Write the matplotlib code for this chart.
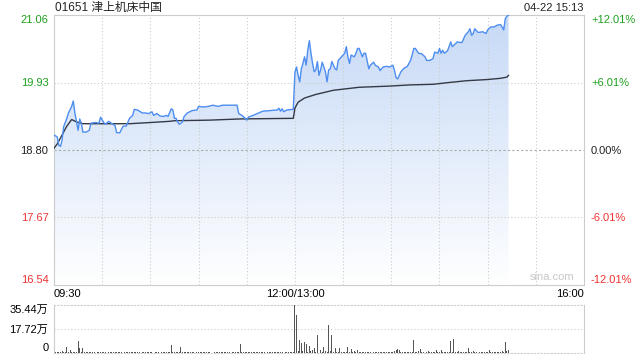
import matplotlib
matplotlib.use('Agg')
import matplotlib.pyplot as plt
import numpy as np
from matplotlib.colors import LinearSegmentedColormap
from matplotlib.patches import Polygon

plt.rcParams['font.family'] = ['Liberation Sans', 'Noto Sans CJK SC']

# price line (minutes since 09:30, lunch break removed)
price_t = [0, 2, 3, 4, 5, 6, 8, 9, 11, 12, 13, 14, 15, 16, 17, 18, 20, 22, 23, 26,
           28, 29, 31, 32, 34, 35, 38, 39, 41, 43, 45, 47, 49, 50, 52, 55, 57, 59, 61, 62,
           64, 66, 68, 70, 71, 73, 74, 75, 76, 77, 78, 80, 81, 83, 86, 89, 90, 93, 96, 99,
           102, 105, 110, 114, 115, 117, 119, 120, 121, 124, 130, 139, 140, 141, 142, 143, 145, 149,
           150, 151, 152, 153, 154, 155, 156, 157, 158, 159, 160, 161, 162, 163, 164, 165, 166, 167,
           169, 170, 171, 172, 173, 175, 176, 177, 179, 181, 182, 183, 184, 185, 187, 188, 189, 190,
           192, 193, 194, 196, 197, 199, 200, 202, 203, 205, 207, 209, 211, 212, 213, 214, 216, 218,
           220, 222, 223, 224, 225, 227, 229, 231, 232, 234, 236, 237, 239, 240, 241, 242, 243, 245,
           246, 247, 248, 250, 251, 253, 254, 256, 258, 259, 260, 261, 262, 264, 265, 267, 269, 270,
           272, 274, 276, 278, 279, 280, 281, 282, 283]
price = [19.05, 19.02, 18.88, 18.86, 18.96, 19.19, 19.33, 19.42, 19.53, 19.62, 19.42, 19.27, 19.13, 19.32, 19.25, 19.10, 19.10, 19.13, 19.25, 19.26,
         19.25, 19.35, 19.26, 19.23, 19.28, 19.26, 19.21, 19.09, 19.09, 19.20, 19.20, 19.33, 19.38, 19.48, 19.47, 19.42, 19.42, 19.41, 19.44, 19.38,
         19.41, 19.37, 19.36, 19.38, 19.36, 19.49, 19.47, 19.33, 19.33, 19.27, 19.23, 19.27, 19.36, 19.42, 19.46, 19.47, 19.53, 19.52, 19.53, 19.55,
         19.53, 19.55, 19.55, 19.55, 19.41, 19.38, 19.33, 19.30, 19.35, 19.38, 19.45, 19.47, 19.50, 19.45, 19.49, 19.44, 19.47, 19.48,
         20.10, 20.19, 20.05, 19.94, 20.16, 20.25, 20.36, 20.22, 20.47, 20.63, 20.42, 20.25, 20.11, 20.14, 20.28, 20.05, 20.14, 20.27,
         20.11, 19.94, 20.14, 20.16, 20.28, 20.16, 20.14, 20.30, 20.36, 20.42, 20.53, 20.36, 20.25, 20.39, 20.36, 20.42, 20.50, 20.50,
         20.36, 20.42, 20.42, 20.16, 20.22, 20.27, 20.22, 20.19, 20.13, 20.19, 20.20, 20.19, 20.22, 20.13, 20.01, 19.99, 20.11, 20.17,
         20.20, 20.30, 20.39, 20.50, 20.50, 20.42, 20.41, 20.36, 20.30, 20.30, 20.33, 20.44, 20.42, 20.50, 20.42, 20.47, 20.42, 20.46,
         20.53, 20.61, 20.53, 20.58, 20.61, 20.60, 20.60, 20.72, 20.78, 20.83, 20.72, 20.75, 20.83, 20.77, 20.77, 20.78, 20.75, 20.81,
         20.86, 20.86, 20.89, 20.90, 20.86, 20.81, 21.00, 21.04, 21.06]

avg_t = [0, 2, 5, 8, 11, 14, 18, 47, 60, 72, 75, 97, 116, 149, 150, 152, 156, 163, 174,
         190, 209, 222, 236, 246, 257, 270, 278, 282, 283]
avg = [18.83, 18.90, 19.05, 19.20, 19.31, 19.27, 19.24, 19.24, 19.26, 19.28, 19.29, 19.30, 19.32, 19.33, 19.50, 19.60, 19.67, 19.73, 19.80,
       19.85, 19.87, 19.89, 19.90, 19.93, 19.96, 19.98, 20.00, 20.02, 20.05]

# volume per minute, in 万 shares
volume = [0.8, 0.5, 0.6, 0.4, 0.9, 1.2, 0.7, 0.5, 4.6, 0.6, 2.0, 0.8, 0.5, 0.9, 0.6, 8.7, 3.6, 0.7, 3.6, 0.5,
          0.6, 0.4, 0.5, 0.7, 0.4, 0.5, 0.3, 0.6, 0.4, 0.5, 0.7, 0.4, 0.5, 0.3, 0.6, 0.5, 0.4, 0.8, 0.5, 0.4,
          0.5, 0.6, 0.4, 0.3, 0.5, 0.7, 0.4, 0.5, 0.6, 0.4, 0.8, 0.5, 0.4, 0.6, 0.3, 0.5, 0.7, 0.4, 0.5, 0.6,
          0.4, 0.5, 0.3, 0.6, 0.4, 0.5, 0.7, 0.4, 0.6, 0.5, 0.4, 0.5, 0.7, 5.8, 1.0, 0.6, 0.5, 0.4, 0.6, 4.1,
          0.6, 0.5, 0.4, 0.7, 0.5, 0.4, 0.6, 0.5, 0.3, 0.4, 0.6, 0.5, 0.7, 0.4, 0.5, 0.6, 0.4, 0.5, 0.3, 0.6,
          0.5, 0.4, 0.6, 0.5, 0.7, 0.4, 0.5, 0.6, 0.4, 0.5, 0.3, 0.6, 0.5, 0.4, 0.7, 0.5, 6.3, 0.8, 0.5, 0.6,
          0.9, 0.5, 0.6, 0.4, 0.5, 0.7, 0.4, 0.6, 0.5, 0.4, 0.6, 0.5, 0.3, 0.5, 0.6, 0.4, 0.5, 0.7, 0.4, 0.5,
          0.6, 0.4, 0.5, 0.3, 0.6, 0.5, 0.4, 0.6, 0.5, 0.7,
          35.44, 28.2, 1.5, 9.9, 7.7, 1.2, 8.0, 6.5, 1.0, 5.3, 1.2, 2.4, 3.6, 1.0, 13.0, 1.5, 2.2, 0.9, 4.1, 1.2,
          1.0, 21.0, 1.4, 13.0, 0.9, 3.6, 1.0, 0.8, 3.4, 1.1, 0.8, 1.0, 0.7, 4.6, 0.9, 2.6, 0.8, 1.8, 0.7, 2.2,
          0.8, 0.6, 0.9, 0.7, 1.0, 0.6, 0.8, 0.5, 1.1, 0.7, 0.6, 0.8, 0.5, 0.7, 0.9, 0.6, 0.8, 0.5, 0.7, 0.6,
          0.8, 1.0, 1.2, 2.4, 2.6, 2.2, 1.0, 0.8, 0.6, 0.9, 0.7, 0.8, 0.6, 1.0, 9.9, 0.8, 0.7, 1.2, 2.6, 0.9,
          0.7, 0.9, 0.6, 1.8, 0.8, 0.7, 1.0, 0.6, 2.2, 0.8, 0.9, 2.2, 0.7, 1.0, 0.8, 0.9, 0.7, 8.7, 1.1, 10.1,
          1.0, 0.8, 1.2, 0.7, 0.9, 1.1, 0.8, 0.9, 3.4, 1.0, 0.8, 1.4, 0.9, 0.7, 1.0, 0.8, 1.1, 0.9, 0.7, 1.0,
          0.9, 2.4, 1.0, 0.8, 1.1, 0.9, 0.7, 1.0, 0.8, 1.2, 0.9, 8.0, 1.3, 2.2]
vol_t = list(range(len(volume)))

price_ticks = [16.54, 17.67, 18.80, 19.93, 21.06]
price_labels = ['16.54', '17.67', '18.80', '19.93', '21.06']
pct_labels = ['-12.01%', '-6.01%', '0.00%', '+6.01%', '+12.01%']
tick_colors = ['#f03232', '#f03232', '#222222', '#1ea01e', '#1ea01e']
time_ticks = [0, 150, 330]
time_labels = ['09:30', '12:00/13:00', '16:00']
vol_ticks = [0, 17.72, 35.44]
vol_labels = ['0', '17.72万', '35.44万']

grid_c = '#cccccc'
fig = plt.figure(figsize=(6.4, 3.6), dpi=100)
ax = fig.add_axes([54 / 640, 1 - 285 / 360, 530 / 640, 270 / 360])
vax = fig.add_axes([54 / 640, 1 - 353 / 360, 530 / 640, 48 / 360])

ax.set_xlim(0, 330)
ax.set_ylim(price_ticks[0], price_ticks[-1])

# gradient fill under the price line
cmap = LinearSegmentedColormap.from_list('fill', ['#ffffff', '#c6d9f6'])
grad = np.linspace(1, 0, 256).reshape(-1, 1)
im = ax.imshow(grad, extent=(price_t[0], price_t[-1], price_ticks[0], price_ticks[-1]),
               aspect='auto', cmap=cmap, vmin=0, vmax=1, zorder=1)
verts = [(price_t[0], price_ticks[0])] + list(zip(price_t, price)) + [(price_t[-1], price_ticks[0])]
clip = Polygon(verts, closed=True, transform=ax.transData)
im.set_clip_path(clip)

# grid
for x in range(30, 330, 30):
    ax.axvline(x, color=grid_c, lw=0.8, ls=(0, (1, 2)), zorder=2)
for y in [17.67, 19.93]:
    ax.axhline(y, color=grid_c, lw=0.8, ls=(0, (1, 2)), zorder=2)
ax.axhline(18.80, color='#aaaaaa', lw=0.8, ls=(0, (2, 2)), zorder=2)

ax.plot(price_t, price, color='#4d8ef0', lw=1.0, zorder=4)
ax.plot(avg_t, avg, color='#333a45', lw=1.0, zorder=3)

for s in ax.spines.values():
    s.set_color(grid_c)

ax.set_yticks(price_ticks, price_labels)
ax.set_xticks(time_ticks, time_labels)
ax.tick_params(length=0, labelsize=8, pad=4)
ax.tick_params(axis='x', pad=3)
for lbl, c in zip(ax.get_yticklabels(), tick_colors):
    lbl.set_color(c)
ax.get_yticklabels()[0].set_va('bottom')
ax.get_yticklabels()[-1].set_va('top')
xl = ax.get_xticklabels()
xl[0].set_ha('left')
xl[-1].set_ha('right')

ax2 = ax.twinx()
ax2.set_ylim(price_ticks[0], price_ticks[-1])
ax2.set_yticks(price_ticks, pct_labels)
ax2.tick_params(length=0, labelsize=8, pad=5)
for lbl, c in zip(ax2.get_yticklabels(), tick_colors):
    lbl.set_color(c)
ax2.get_yticklabels()[0].set_va('bottom')
ax2.get_yticklabels()[-1].set_va('top')
for s in ax2.spines.values():
    s.set_visible(False)

ax.text(0.94, 0.012, 'sina.com', transform=ax.transAxes, ha='center', va='bottom',
        fontsize=8, color='#c8c8c8', zorder=5)

fig.text(55 / 640, 1 - 8 / 360, '01651 津上机床中国', va='center', ha='left', fontsize=8.5, color='#222222')
fig.text(584 / 640, 1 - 8 / 360, '04-22 15:13', va='center', ha='right', fontsize=8, color='#222222')

# volume panel
vax.bar(vol_t, volume, width=0.6, color='#555555', zorder=3)
vax.set_xlim(0, 330)
vax.set_ylim(0, vol_ticks[-1])
vax.axhline(vol_ticks[1], color=grid_c, lw=0.8, ls=(0, (1, 2)), zorder=1)
vax.set_xticks([])
vax.set_yticks(vol_ticks, vol_labels)
vax.tick_params(length=0, labelsize=8, pad=4)
vl = vax.get_yticklabels()
vl[0].set_va('bottom')
vl[-1].set_va('top')
for s in vax.spines.values():
    s.set_color(grid_c)
vax.spines['top'].set_linestyle((0, (1, 2)))
vax.spines['bottom'].set_linestyle((0, (1, 2)))

fig.savefig('out.png', dpi=100)
